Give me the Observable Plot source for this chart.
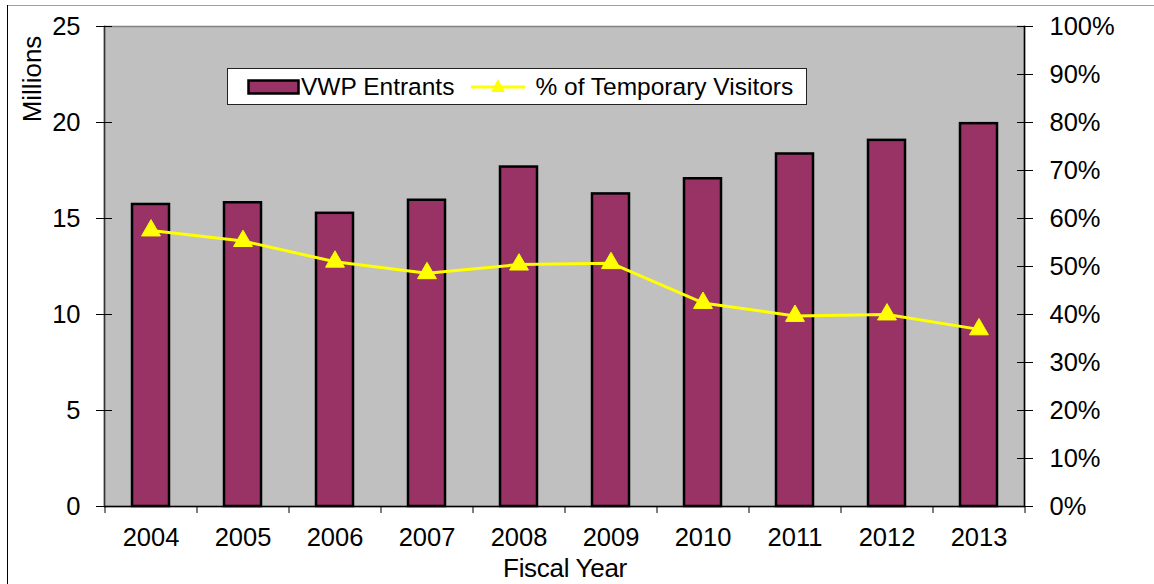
<!DOCTYPE html>
<html>
<head>
<meta charset="utf-8">
<script src="https://cdn.jsdelivr.net/npm/d3@7"></script>
<script src="https://cdn.jsdelivr.net/npm/@observablehq/plot@0.6"></script>
<style>
  html, body { margin: 0; padding: 0; background: white; }
  #wrap { position: relative; width: 1154px; height: 584px; overflow: hidden; font-family: "Liberation Sans", Arial, sans-serif; }
  #topline { position: absolute; left: 7px; top: 5px; width: 1147px; height: 0; border-top: 1.5px solid #a0a0a0; }
  #leftline { position: absolute; left: 7px; top: 5px; width: 0; height: 579px; border-left: 1.5px solid #000; }
  #ylabel { position: absolute; left: 32px; top: 79px; transform: translate(-50%, -50%) rotate(-90deg); font-size: 26px; white-space: nowrap; color: #000; }
  #xlabel { position: absolute; left: 565px; top: 568px; transform: translate(-50%, -50%); font-size: 26px; white-space: nowrap; color: #000; letter-spacing: -0.3px; }
  #legend { position: absolute; left: 227px; top: 68px; width: 580px; height: 37px; background: white; border: 1.5px solid #222; box-sizing: border-box; display: flex; align-items: center; font-size: 24.5px; color: #000; }
  #legend svg { display: block; }
  #chart svg { display: block; }
</style>
</head>
<body>
<div id="wrap">
  <div id="chart"></div>
  <div id="topline"></div>
  <div id="leftline"></div>
  <div id="ylabel">Millions</div>
  <div id="xlabel">Fiscal Year</div>
  <div id="legend"></div>
</div>
<script>
// ---- data ----
const years = ["2004", "2005", "2006", "2007", "2008", "2009", "2010", "2011", "2012", "2013"];
const vwpEntrants = [15.73, 15.82, 15.27, 15.95, 17.68, 16.28, 17.07, 18.36, 19.07, 19.94]; // millions
const tempVisitorPct = [57.5, 55.3, 51.0, 48.6, 50.4, 50.7, 42.4, 39.7, 40.0, 36.9]; // percent
const leftTicks = [0, 5, 10, 15, 20, 25];
const rightTicks = [0, 10, 20, 30, 40, 50, 60, 70, 80, 90, 100];
const seriesNames = ["VWP Entrants", "% of Temporary Visitors"];

// ---- layout / style ----
const W = 1154, H = 584;
const mL = 104, mR = 130, mT = 26, mB = 78;
const step = (W - mL - mR) / years.length;
const barColor = "#993366";
const lineColor = "#ffff00";
const yMax = 25, pctMax = 100;
const pctToY = p => p * yMax / pctMax;

const rows = years.map((y, i) => ({year: y, vwp: vwpEntrants[i], pct: tempVisitorPct[i]}));

const chart = Plot.plot({
  width: W,
  height: H,
  marginLeft: mL,
  marginRight: mR,
  marginTop: mT,
  marginBottom: mB,
  style: {fontFamily: "'Liberation Sans', Arial, sans-serif", fontSize: "25px", color: "#000", background: "white", overflow: "visible"},
  x: {type: "band", domain: years, paddingInner: 0.6, paddingOuter: 0.3},
  y: {domain: [0, yMax]},
  marks: [
    Plot.frame({fill: "#c0c0c0", stroke: "#808080", strokeWidth: 1.5}),
    Plot.barY(rows, {x: "year", y: "vwp", fill: barColor, stroke: "#000", strokeWidth: 2.5}),
    // axis lines
    Plot.ruleY([0], {stroke: "#000", strokeWidth: 1.5}),
    Plot.frame({anchor: "right", stroke: "#000", strokeWidth: 1.5}),
    Plot.frame({anchor: "left", stroke: "#333", strokeWidth: 1.5}),
    // line series
    Plot.line(rows, {x: "year", y: d => pctToY(d.pct), stroke: lineColor, strokeWidth: 3}),
    Plot.dot(rows, {x: "year", y: d => pctToY(d.pct), symbol: "triangle", r: 7, fill: lineColor, stroke: lineColor, strokeWidth: 1}),
    // left axis: crossing ticks + labels
    Plot.axisY(leftTicks, {anchor: "left", tickSize: 16, dx: 8, tickFormat: () => "", label: null, stroke: "#000"}),
    Plot.axisY(leftTicks, {anchor: "left", tickSize: 0, tickPadding: 24, label: null, fontSize: 25.5}),
    // right axis (percent): crossing ticks + labels
    Plot.axisY(rightTicks.map(pctToY), {anchor: "right", tickSize: 16, dx: -8, tickFormat: () => "", label: null, stroke: "#000"}),
    Plot.axisY(rightTicks.map(pctToY), {anchor: "right", tickSize: 0, tickPadding: 25, label: null, fontSize: 25.5,
      tickFormat: v => Math.round(v * pctMax / yMax) + "%"}),
    // x axis: ticks at band boundaries + labels
    Plot.axisX(years, {anchor: "bottom", tickSize: 7, dx: -step / 2, tickFormat: () => "", label: null, stroke: "#000"}),
    Plot.axisX(years.slice(-1), {anchor: "bottom", tickSize: 7, dx: step / 2, tickFormat: () => "", label: null, stroke: "#000"}),
    Plot.axisX(years, {anchor: "bottom", tickSize: 0, tickPadding: 21, label: null, fontSize: 25.5})
  ]
});
document.getElementById("chart").appendChild(chart);

// ---- legend (inside the plot area) ----
const legend = document.getElementById("legend");
legend.innerHTML = `
  <svg width="19" height="20"></svg>
  <svg width="54" height="18"><rect x="1.5" y="2.5" width="50" height="13" fill="${barColor}" stroke="#000" stroke-width="2.5"/></svg>
  <span style="margin-left:0px">${seriesNames[0]}</span>
  <svg width="72" height="24" style="margin-left:9px"><line x1="8" y1="12" x2="62" y2="12" stroke="${lineColor}" stroke-width="3"/><path d="M35,4 L42,17 L28,17 Z" fill="${lineColor}"/></svg>
  <span style="margin-left:0px">${seriesNames[1]}</span>`;
</script>
</body>
</html>
